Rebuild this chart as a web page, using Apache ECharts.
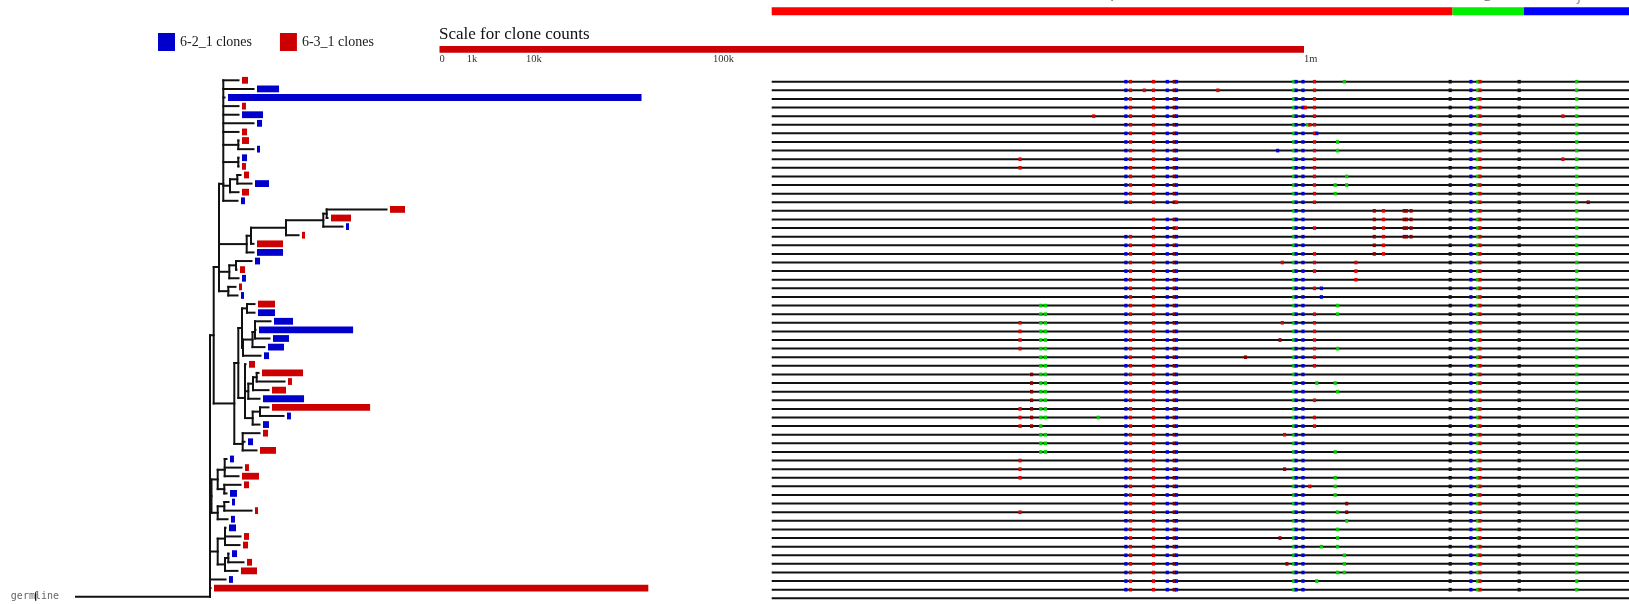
<!DOCTYPE html>
<html>
<head>
<meta charset="utf-8">
<script src="https://cdn.jsdelivr.net/npm/echarts@6/dist/echarts.min.js"></script>
<style>
  html, body { margin: 0; padding: 0; background: #fff; }
  #chart { width: 1629px; height: 604px; }
</style>
</head>
<body>
<div id="chart"></div>
<script>
// ---------------- data ----------------
const SAMPLES = ['6-2_1 clones', '6-3_1 clones'];

// sample of each clone, top row first (b = 6-2_1, r = 6-3_1)
const CLONE_SAMPLE = ('rbbrbbrrbb' + 'rrbrbrrbrr' + 'bbrbrbrbbb' +
                      'bbbrrrrbrb' + 'brbrbrrrbb' + 'rbbrrbrrbr').split('');

// clone sizes (reads), top row first
const CLONE_COUNTS = [
  48, 650, 228800, 21, 590, 34, 34, 66, 12, 34,
  21, 34, 263, 66, 21, 302, 536, 12, 12, 907,
  907, 34, 34, 21, 12, 12, 388, 388, 484, 11850,
  343, 343, 34, 48, 2254, 21, 263, 2254, 12880, 21,
  48, 34, 34, 343, 21, 21, 388, 34, 66, 12,
  12, 21, 66, 34, 34, 34, 34, 343, 21, 252400
];

// distance of each clone from the germline sequence
const LEAF_DEPTH = [
  16.25, 17.75, 14.85, 16.25, 16.25, 17.75, 16.25, 16.25, 17.75, 16.25,
  16.25, 16.45, 17.55, 16.25, 16.15, 31.05, 25.15, 26.65, 22.25, 17.75,
  17.75, 17.55, 16.05, 16.25, 15.95, 16.15, 17.85, 17.85, 19.45, 17.95,
  19.35, 18.85, 18.45, 16.95, 18.25, 20.85, 19.25, 18.35, 19.25, 20.75,
  18.35, 18.35, 16.85, 18.05, 15.05, 16.55, 16.25, 16.45, 15.05, 15.25,
  17.55, 15.15, 14.95, 16.45, 16.35, 15.25, 16.75, 16.15, 14.95, 13.45
];

// lineage tree: internal nodes {d: depth, c: children}, leaves = clone row.
// Nodes with more than two children are unresolved ladders (zero-length splits).
const TREE = {d: 13.4, c: [
  {d: 13.77, c: [
    {d: 14.3, c: [
      {d: 14.73, c: [0, 1, 2, 3, 4, 5, 6,
        {d: 16.23, c: [7, 8]},
        {d: 16.23, c: [9, 10]},
        {d: 15.4, c: [{d: 16.13, c: [11, 12]}, 13]},
        14]},
      {d: 17.07, c: [{d: 17.5, c: [{d: 21.0, c: [{d: 24.73, c: [{d: 25.07, c: [15, 16]}, 17]}, 18]}, 19]}, 20]},
      {d: 15.33, c: [{d: 16.0, c: [21, 22]}, 23]},
      {d: 15.23, c: [24, 25]}
    ]},
    {d: 15.83, c: [
      {d: 16.23, c: [
        {d: 16.6, c: [{d: 17.1, c: [26, 27]},
                      {d: 16.7, c: [{d: 17.65, c: [{d: 17.9, c: [28, 29, 30]}, 31]}, 32]}]},
        {d: 16.9, c: [33,
                      {d: 17.23, c: [{d: 17.7, c: [{d: 18.07, c: [34, 35]}, 36]}, 37]},
                      {d: 17.67, c: [{d: 18.4, c: [38, 39]}, 40]}]}
      ]},
      {d: 16.67, c: [41, 42, 43]}
    ]}
  ]},
  {d: 13.55, c: [
    {d: 14.17, c: [{d: 14.87, c: [44, 45, 46]}, {d: 14.83, c: [47, 48]}]},
    {d: 14.17, c: [{d: 14.83, c: [49, 50]}, 51]}
  ]},
  {d: 14.17, c: [{d: 14.9, c: [52, 53, 54]}, {d: 14.9, c: [{d: 15.23, c: [55, 56]}, 57]}]},
  58, 59, 'germline'
]};

// clone-count scale
const SCALE_TICKS = [0, 1000, 10000, 100000, 1000000];
const SCALE_LABELS = ['0', '1k', '10k', '100k', '1m'];

// gene segments along the alignment (nucleotide positions)
const REGION_NAMES = ['V', 'D', 'J'];
const REGION_BOUNDS = [0, 296, 327, 375];

// mutations vs germline: position + base code (r, b, g, d, k)
const SHARED_MUTS = '227g 228b 231b 295k 304b 307g 308r 325k 350g';
const ROW_MUTS = [
  '154b 156r 166r 172b 175d 176b 236r 249g',
  '154b 156r 162r 166r 172b 175d 176b 194r 236r',
  '154b 156r 166r 172b 175d 176b 236r',
  '154b 156r 166r 172b 175d 176b 232r 236r',
  '140r 154b 156r 166r 172b 175d 176b 236r 344r',
  '154b 156r 166r 172b 175d 176b 233g 234r 236r',
  '154b 156r 166r 172b 175d 176b 236r 237b',
  '154b 156r 166r 172b 175d 176b 236r 246g',
  '154b 156r 166r 172b 175d 176b 220b 236r 246g',
  '108r 154b 156r 166r 172b 175d 176b 236r 344r',
  '108r 154b 156r 166r 172b 175d 176b 236r',
  '154b 156r 166r 172b 175d 176b 236r 250g',
  '154b 156r 166r 172b 175d 176b 236r 245g 250g',
  '154b 156r 166r 172b 175d 176b 236r 245g',
  '154b 156r 166r 172b 175d 176r 236r 355d',
  '262d 266r 275d 276d 278d',
  '166r 172b 175d 176b 262d 266r 275d 276d 278d',
  '166r 172b 175d 176r 236r 262d 266r 275d 276d 278d',
  '154b 156r 166r 172b 175d 176b 262d 266r 275d 276d 278d',
  '154b 156r 166r 172b 175d 176b 262d 266r',
  '154b 156r 166r 172b 175d 176b 236r 262d 266r',
  '154b 156r 166r 172b 175d 176b 222r 236r 254r',
  '154b 156r 166r 172b 175d 176b 236r 254r',
  '154b 156r 166r 172b 175d 176b 254r',
  '154b 156r 166r 172b 175d 176b 236r 239b',
  '154b 156r 166r 172b 175d 176b 239b',
  '117g 119g 154b 156r 166r 172b 175d 176b 246g',
  '117g 119g 154b 156r 166r 172b 175d 176b 236r 246g',
  '108r 117g 119g 154b 156r 166r 172b 175d 176b 222r 236r',
  '108r 117g 119g 154b 156r 166r 172b 175d 176b 236r',
  '108r 117g 119g 154b 156r 166r 172b 175d 176b 221d 236r',
  '108r 117g 119g 154b 156r 166r 172b 175d 176b 236r 246g',
  '117g 119g 154b 156r 166r 172b 175d 176b 206d 236r',
  '117g 119g 154b 156r 166r 172b 175d 176b 236r',
  '113d 117g 119g 154b 156r 166r 172b 175d 176b',
  '113d 117g 119g 154b 156r 166r 172b 175d 176b 237g 245g',
  '113d 117g 119g 154b 156r 166r 172b 175d 176b 246g',
  '113d 117g 119g 154b 156r 166r 172b 175d 176b 236r',
  '108r 113d 117g 119g 154b 156r 166r 172b 175d 176b',
  '108r 113d 117g 119g 142g 154b 156r 166r 172b 175d 176b 236r',
  '108r 113d 117g 154b 156r 166r 172b 175d 176b 236r',
  '117g 119g 154b 156r 166r 172b 175d 176b 223r',
  '117g 119g 154b 156r 166r 172b 175d 176b',
  '117g 119g 154b 156r 166r 172b 175d 176b 245g',
  '108r 154b 156r 166r 172b 175d 176b',
  '108r 154b 156r 166r 172b 175d 176b 223d',
  '108r 154b 156r 166r 172b 175d 176b 245g',
  '154b 156r 166r 172b 175d 176b 234r 245g',
  '154b 156r 166r 172b 175d 176b 245g',
  '154b 156r 166r 172b 175d 176b 250d',
  '108r 154b 156r 166r 172b 175d 176b 246g 250d',
  '154b 156r 166r 172b 175d 176b 250g',
  '154b 156r 166r 172b 175d 176b 246g',
  '154b 156r 166r 172b 175d 176b 221d 246g',
  '154b 156r 166r 172b 175d 176b 239g 246g',
  '154b 156r 166r 172b 175d 176b 249g',
  '154b 156r 166r 172b 175d 176b 224d 249g',
  '154b 156r 166r 172b 175d 176b 246g 249g',
  '154b 156r 166r 172b 175d 176b 237g',
  '154b 156r 166r 172b 175d 176b'
];

// ---------------- styles ----------------
const SAMPLE_COLORS = ['#0000cc', '#cc0000'];
const MARK_CODES = 'rbgdk';
const MARK_COLORS = ['#dd0000', '#0000dd', '#00cc00', '#880000', '#111111'];
const REGION_COLORS = ['#ff0000', '#00ee00', '#0000ff'];
const LINE_COLOR = '#111';
const SERIF = '"Liberation Serif", "Times New Roman", serif';
const BAR_H = 6.8, BAR_GAP = 3.5, MARK_W = 3.2, MARK_H = 3.6;

// ---------------- derived series data ----------------
const ROWS = CLONE_COUNTS.length;          // germline sits one row below the clones
const treeSegs = [];
function place(node) {
  if (node === 'germline') return {x: 0, y: ROWS};
  if (typeof node === 'number') return {x: LEAF_DEPTH[node], y: node};
  const kids = node.c.map(place);
  const y0 = kids[0].y, y1 = kids[kids.length - 1].y;
  treeSegs.push([node.d, y0, node.d, y1]);
  kids.forEach(k => treeSegs.push([node.d, k.y, k.x, k.y]));
  // a multifurcation is a ladder of binary splits: each split sits midway
  // between the split above it and its next child
  let y = kids[0].y;
  for (let i = 1; i < kids.length; i++) y = (y + kids[i].y) / 2;
  return {x: node.d, y};
}
place(TREE);

const barData = SAMPLES.map(() => []);
CLONE_SAMPLE.forEach((s, row) => {
  barData[s === 'b' ? 0 : 1].push([LEAF_DEPTH[row], row, CLONE_COUNTS[row]]);
});

const markData = [];
ROW_MUTS.forEach((muts, row) => {
  (muts + ' ' + SHARED_MUTS).trim().split(/\s+/).forEach(tok => {
    markData.push([parseFloat(tok), row, MARK_CODES.indexOf(tok.slice(-1))]);
  });
});
markData.sort((a, b) => a[0] - b[0]);

const alignRows = [];
for (let r = 0; r <= ROWS; r++) alignRows.push([0, r]);

const regionData = REGION_NAMES.map((n, i) => [REGION_BOUNDS[i], REGION_BOUNDS[i + 1], i]);
const scaleTickData = SCALE_TICKS.map((t, i) => [Math.sqrt(t), i]);
const scaleMax = Math.sqrt(SCALE_TICKS[SCALE_TICKS.length - 1]);

// ---------------- chart ----------------
const chart = echarts.init(document.getElementById('chart'), null, {renderer: 'canvas'});

const hidden = {show: false};
function buildOption(pxPerSqrt) {
  const series = [
    { // tree branches
      type: 'custom', xAxisIndex: 0, yAxisIndex: 0, silent: true,
      data: treeSegs, encode: {x: [0, 2], y: [1, 3]},
      renderItem(params, api) {
        const a = api.coord([api.value(0), api.value(1)]);
        const b = api.coord([api.value(2), api.value(3)]);
        return {type: 'line', shape: {x1: a[0], y1: a[1], x2: b[0], y2: b[1]},
                style: {stroke: LINE_COLOR, lineWidth: 2, lineCap: 'square'}};
      }
    },
    { // germline label with its caret
      type: 'custom', xAxisIndex: 0, yAxisIndex: 0, silent: true,
      data: [[0, ROWS]],
      renderItem(params, api) {
        const p = api.coord([api.value(0), api.value(1)]);
        return {type: 'group', children: [
          {type: 'text', x: p[0] - 17, y: p[1],
           style: {text: 'germline', fill: '#666', font: '10px "DejaVu Sans Mono", monospace',
                   align: 'right', verticalAlign: 'middle'}},
          {type: 'line', shape: {x1: p[0] - 40.3, y1: p[1] - 4.5, x2: p[0] - 40.3, y2: p[1] + 4},
           style: {stroke: '#000', lineWidth: 1.2}}
        ]};
      }
    },
    { // clone-count scale bar
      type: 'custom', xAxisIndex: 1, yAxisIndex: 1, silent: true,
      data: [[0, scaleMax]],
      renderItem(params, api) {
        const a = api.coord([api.value(0), 1]);
        const b = api.coord([api.value(1), 0]);
        return {type: 'rect', shape: {x: a[0], y: a[1], width: b[0] - a[0], height: b[1] - a[1]},
                style: {fill: '#cc0000'}};
      }
    },
    { // scale tick labels
      type: 'custom', xAxisIndex: 1, yAxisIndex: 1, silent: true,
      data: scaleTickData,
      renderItem(params, api) {
        const p = api.coord([api.value(0), 0]);
        return {type: 'text', x: p[0], y: p[1] + 7,
                style: {text: SCALE_LABELS[api.value(1)], fill: '#333',
                        font: '10.5px ' + SERIF, align: 'left', verticalAlign: 'middle'}};
      }
    },
    { // V / D / J segment bar
      type: 'custom', xAxisIndex: 3, yAxisIndex: 3, silent: true,
      data: regionData,
      renderItem(params, api) {
        const a = api.coord([api.value(0), 1]);
        const b = api.coord([api.value(1), 0]);
        const i = api.value(2);
        return {type: 'group', children: [
          {type: 'rect', shape: {x: a[0], y: a[1], width: b[0] - a[0], height: b[1] - a[1]},
           style: {fill: REGION_COLORS[i]}},
          {type: 'text', x: (a[0] + b[0]) / 2, y: a[1] - 3,
           style: {text: REGION_NAMES[i], fill: '#888', font: '12px "DejaVu Sans", sans-serif',
                   align: 'center', verticalAlign: 'bottom'}}
        ]};
      }
    },
    { // aligned sequences
      type: 'custom', xAxisIndex: 2, yAxisIndex: 2, silent: true,
      data: alignRows,
      renderItem(params, api) {
        const a = api.coord([REGION_BOUNDS[0], api.value(1)]);
        const b = api.coord([REGION_BOUNDS[REGION_BOUNDS.length - 1], api.value(1)]);
        return {type: 'line', shape: {x1: a[0], y1: a[1], x2: b[0], y2: b[1]},
                style: {stroke: LINE_COLOR, lineWidth: 2}};
      }
    },
    { // mutations
      type: 'custom', xAxisIndex: 2, yAxisIndex: 2, silent: true,
      data: markData,
      renderItem(params, api) {
        const p = api.coord([api.value(0), api.value(1)]);
        return {type: 'rect', shape: {x: p[0] - MARK_W / 2, y: p[1] - MARK_H / 2, width: MARK_W, height: MARK_H},
                style: {fill: MARK_COLORS[api.value(2)]}};
      }
    }
  ];
  if (pxPerSqrt) {
    SAMPLES.forEach((name, si) => series.push({
      type: 'custom', name, xAxisIndex: 0, yAxisIndex: 0, silent: true,
      legendIcon: 'rect', itemStyle: {color: SAMPLE_COLORS[si]},
      data: barData[si], encode: {x: 0, y: 1},
      renderItem(params, api) {
        const p = api.coord([api.value(0), api.value(1)]);
        return {type: 'rect',
                shape: {x: p[0] + BAR_GAP, y: p[1] - BAR_H / 2,
                        width: Math.sqrt(api.value(2)) * pxPerSqrt, height: BAR_H},
                style: {fill: SAMPLE_COLORS[si]}};
      }
    }));
  }
  return {
    animation: false,
    backgroundColor: '#fff',
    title: {text: 'Scale for clone counts', left: 439, top: 26, padding: 0,
            textStyle: {fontFamily: SERIF, fontSize: 17, fontWeight: 'normal', color: '#111'}},
    legend: {data: SAMPLES, left: 158, top: 33, padding: 0, itemWidth: 17, itemHeight: 18,
             itemGap: 28, selectedMode: false, icon: 'rect',
             textStyle: {fontFamily: SERIF, fontSize: 14, color: '#1a1a1a'}},
    grid: [
      {left: 76, top: 80.3, width: 600, height: 516.4, outerBoundsMode: 'none'},      // tree
      {left: 439.5, top: 46, width: 864.5, height: 6.7, outerBoundsMode: 'none'},     // count scale
      {left: 771.7, top: 81.7, width: 862.5, height: 516.6, outerBoundsMode: 'none'}, // alignment
      {left: 771.7, top: 7.3, width: 862.5, height: 8, outerBoundsMode: 'none'}       // V/D/J bar
    ],
    xAxis: [
      Object.assign({gridIndex: 0, type: 'value', min: 0, max: 60}, hidden),
      Object.assign({gridIndex: 1, type: 'value', min: 0, max: scaleMax}, hidden),
      Object.assign({gridIndex: 2, type: 'value', min: 0, max: 375}, hidden),
      Object.assign({gridIndex: 3, type: 'value', min: 0, max: 375}, hidden)
    ],
    yAxis: [
      Object.assign({gridIndex: 0, type: 'value', min: 0, max: ROWS, inverse: true}, hidden),
      Object.assign({gridIndex: 1, type: 'value', min: 0, max: 1}, hidden),
      Object.assign({gridIndex: 2, type: 'value', min: 0, max: ROWS, inverse: true}, hidden),
      Object.assign({gridIndex: 3, type: 'value', min: 0, max: 1}, hidden)
    ],
    series
  };
}

// lay out the axes first, then size the clone bars with the count scale
chart.setOption(buildOption(0));
const s0 = chart.convertToPixel({xAxisIndex: 1}, 0);
const s1 = chart.convertToPixel({xAxisIndex: 1}, scaleMax);
chart.setOption(buildOption((s1 - s0) / scaleMax), {notMerge: true});
</script>
</body>
</html>
